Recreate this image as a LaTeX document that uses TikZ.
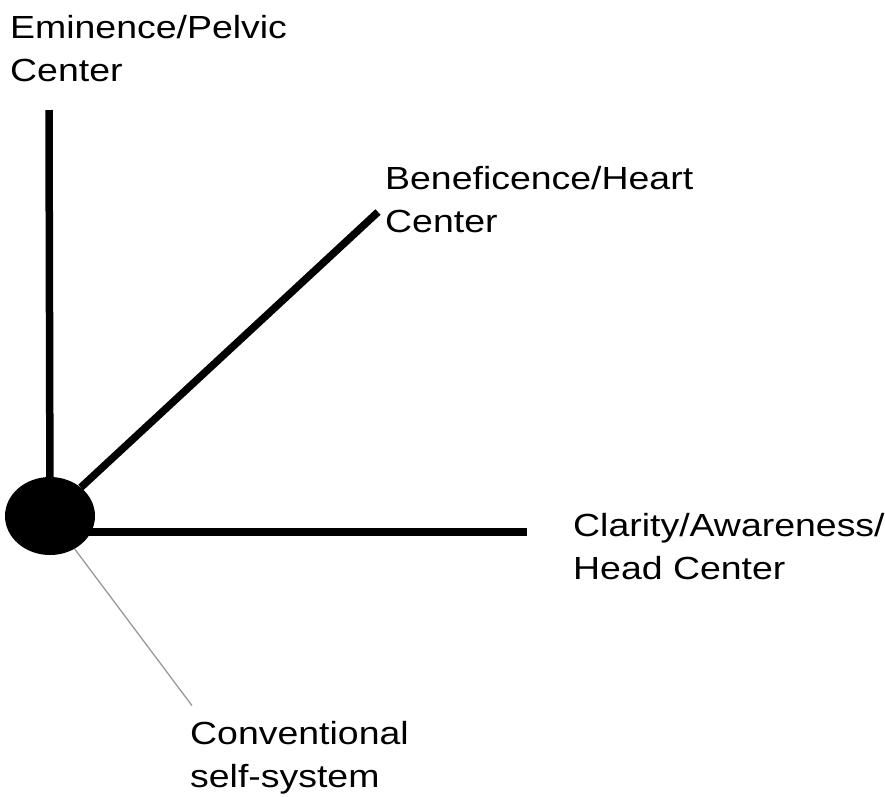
\documentclass[tikz,border=0pt]{standalone}
\usepackage{fontspec}
\newfontfamily\lblfont[FakeStretch=1.17]{Liberation Sans}
\usetikzlibrary{shapes.geometric}

\begin{document}
\begin{tikzpicture}[x=1pt,y=-1pt,
    lbl/.style={font=\lblfont\fontsize{32}{43}\selectfont,align=left,inner sep=0pt,anchor=base west},
    axis/.style={line width=7.5pt},
    thin/.style={line width=1.3pt,draw=black!40}]

   \useasboundingbox (0,0) rectangle (885,796);

   \node[ellipse,fill=black,minimum width=90pt,minimum height=78pt,inner sep=0pt] (self) at (50,516) {};

   \coordinate (pelvic) at (49,110);
   \coordinate (heart)  at (378,212);
   \coordinate (head)   at (527,532);

   % anchor is the baseline of the last line
   \node[lbl] (pelvic_lbl) at (10,81)  {Eminence/Pelvic\\Center};
   \node[lbl] (heart_lbl)  at (385,232) {Beneficence/Heart\\Center};
   \node[lbl] (head_lbl)   at (573,579) {Clarity/Awareness/\\Head Center};
   \node[lbl] (self_lbl)   at (190,787) {Conventional\\self-system};

   \draw[axis] (self) -- (pelvic);
   \draw[axis] (self) -- (heart);
   \draw[axis] (self.center |- head) -- (head);
   \draw[thin] (self) -- ([xshift=2pt,yshift=15pt]self_lbl.north west);

\end{tikzpicture}
\end{document}
